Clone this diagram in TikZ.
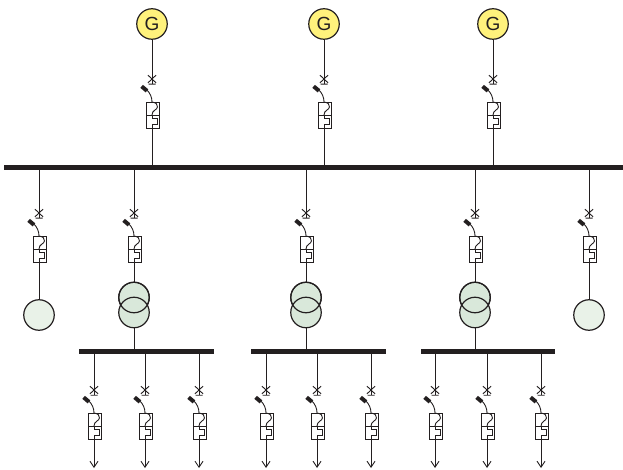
\documentclass[tikz,border=0pt]{standalone}
\usepackage{fontspec}
\setmainfont{Liberation Sans}
\usetikzlibrary{arrows.meta}
\definecolor{ink}{HTML}{231F20}
\definecolor{genfill}{HTML}{FFF27C}
\definecolor{loadfill}{HTML}{E9F2E8}
\definecolor{trafofill}{HTML}{D9E8DA}
\tikzset{
  x=1pt,y=-1pt,
  wire/.style={draw=ink,line width=1pt},
  thin wire/.style={draw=ink,line width=0.9pt},
  mainbus/.style={fill=ink,inner sep=0pt,minimum height=5pt},
  gen/.style={circle,draw=ink,line width=1.2pt,fill=genfill,inner sep=0pt,minimum size=30.5pt,font=\fontsize{19}{19}\selectfont,text=ink},
  load/.style={circle,draw=ink,line width=1.2pt,fill=loadfill,inner sep=0pt,minimum size=30.5pt},
  trafo/.style={circle,draw=ink,line width=1.2pt,fill=trafofill,inner sep=0pt,minimum size=30.5pt},
  ring/.style={circle,draw=ink,line width=1.2pt,inner sep=0pt,minimum size=30.5pt},
  feed/.style={-{Straight Barb[length=6pt,width=8pt,line width=0.9pt]},draw=ink,line width=1pt},
  gear/.pic={
    \coordinate (-in) at (0,5);
    \coordinate (-out) at (0,49);
    \draw[thin wire] (-4,-3.8) -- (4,3.8) (4,-3.8) -- (-4,3.8) (-3.5,5.2) -- (3.5,5.2);
    \draw[thin wire] (0,23) .. controls (0,18) and (-2,14) .. (-5.5,10.5);
    \fill[ink,rotate around={-40:(-7.7,9.6)}] (-11.2,7.6) rectangle (-4.2,11.6);
    \draw[thin wire] (-5.5,23) rectangle (7.5,49);
    \draw[thin wire] (-5.5,36) -- (7.5,36);
    \draw[thin wire] (0,23) .. controls (4,23.5) and (5.8,25.5) .. (5.5,28) .. controls (5.2,31) and (0,31) .. (0,36);
    \draw[thin wire] (0,36) -- (0,39) -- (5.5,39) -- (5.5,45) -- (0,45) -- (0,49);
  }
}
\begin{document}
\begin{tikzpicture}
\useasboundingbox (0,0) rectangle (623,470);
% bus bars
\node[mainbus,minimum width=619pt] (main) at (313.5,167.5) {};
\node[mainbus,minimum width=135pt] (busa) at (146.5,351.5) {};
\node[mainbus,minimum width=135pt] (busb) at (318.5,351.5) {};
\node[mainbus,minimum width=134pt] (busc) at (488,351.5) {};
% generators
\foreach \n/\px in {1/152,2/324,3/493}{
  \node[gen] (g\n) at (\px,24) {G};
  \pic (qg\n) at (\px,79) {gear};
  \draw[wire] (g\n.south) -- (qg\n-in);
  \draw[wire] (qg\n-out) -- (qg\n-out |- main.north);
}
% main feeders
\foreach \n/\px in {1/39,2/134,3/306,4/475,5/589}{
  \pic (qm\n) at (\px,213) {gear};
  \draw[wire] (qm\n-in |- main.south) -- (qm\n-in);
}
% loads
\node[load] (l1) at (39,315) {};
\node[load] (l5) at (589,315) {};
\draw[wire] (qm1-out) -- (l1.north);
\draw[wire] (qm5-out) -- (l5.north);
% transformers
\foreach \n/\px/\b in {2/134/busa,3/306/busb,4/475/busc}{
  \node[trafo] (tu\n) at (\px,297.5) {};
  \node[trafo] (tl\n) at (\px,312.5) {};
  \node[ring] (tr\n) at (\px,297.5) {};
  \draw[wire] (qm\n-out) -- (tu\n.north);
  \draw[wire] (tl\n.south) -- (tl\n.south |- \b.north);
}
% outgoing feeders
\foreach \n/\px/\b in {1/94/busa,2/145/busa,3/199/busa,4/266/busb,5/317/busb,6/371/busb,7/435/busc,8/487/busc,9/541/busc}{
  \pic (qo\n) at (\px,390) {gear};
  \coordinate (e\n) at (\px,468);
  \draw[wire] (qo\n-in |- \b.south) -- (qo\n-in);
  \draw[feed] (qo\n-out) -- (e\n);
}
\end{tikzpicture}
\end{document}
